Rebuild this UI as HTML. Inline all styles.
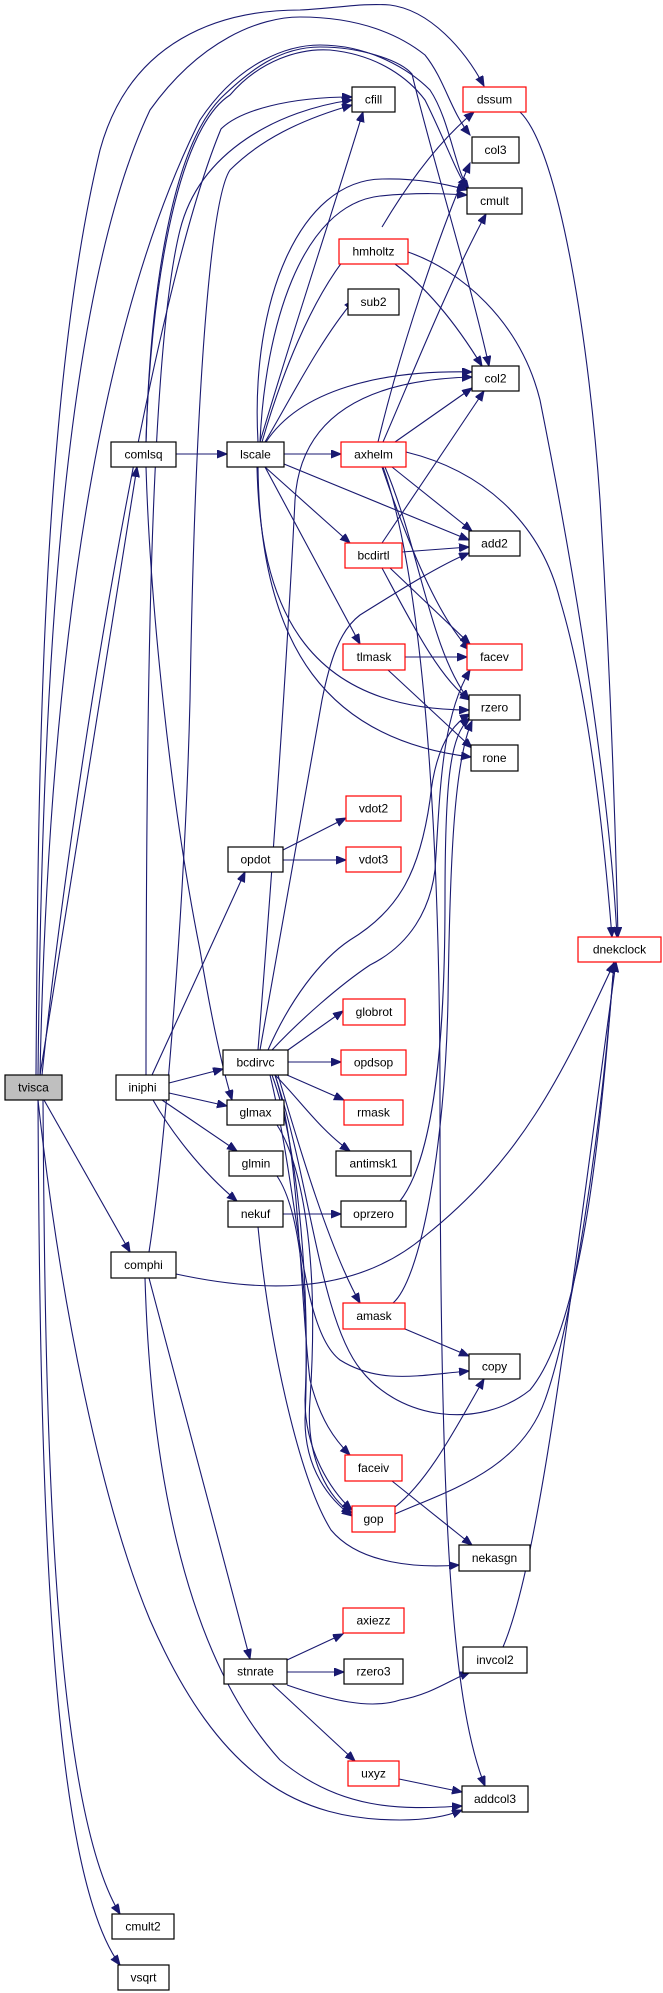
<!DOCTYPE html>
<html><head><meta charset="utf-8"><style>
html,body{margin:0;padding:0;background:#fff;}
svg{display:block;}
text{font-family:"Liberation Sans",sans-serif;font-size:12px;text-anchor:middle;dominant-baseline:central;fill:#000;}
.e{fill:none;stroke:#191970;stroke-width:1.1;marker-end:url(#a);}
.n{fill:#fff;stroke:#000;stroke-width:1.2;}
.r{fill:#fff;stroke:#ff0000;stroke-width:1.2;}
</style></head><body>
<svg width="663" height="1993" viewBox="0 0 663 1993" xmlns="http://www.w3.org/2000/svg">
<defs><marker id="a" markerUnits="userSpaceOnUse" markerWidth="12" markerHeight="10" refX="10" refY="4" orient="auto"><path d="M0,0 L10,4 L0,8 z" fill="#191970" stroke="#191970"/></marker></defs>
<g>
<path class="e" d="M36,1075 C38,800 40,400 100,150 C130,40 220,10 300,10 C340,8 360,3 390,5 C430,10 465,50 484,86"/>
<path class="e" d="M38,1075 C42,700 60,300 150,110 C200,40 260,17 300,17 C360,17 400,35 425,55 C445,80 450,110 470,135"/>
<path class="e" d="M40,1075 C50,600 110,300 200,120 C240,60 290,45 320,45 C370,45 410,70 430,90 C450,120 455,170 469,190"/>
<path class="e" d="M146,442 C150,300 170,150 221,98 C250,70 280,47 320,47 C360,47 400,60 412,74 C430,150 470,280 489,366"/>
<path class="e" d="M146,442 C150,300 175,130 230,95 C260,60 300,48 330,50 C380,55 410,80 425,100 C445,140 455,170 467,188"/>
<path class="e" d="M42,1075 C70,800 150,300 221,129 C240,110 290,97 352,97"/>
<path class="e" d="M149,1252 C165,1150 185,900 190,700 C195,400 210,200 230,170 C260,140 300,120 352,105"/>
<path class="e" d="M146,1075 C146,700 150,350 180,230 C200,150 280,110 352,100"/>
<path class="e" d="M176,454 L227,454"/>
<path class="e" d="M40,1075 L137,467"/>
<path class="e" d="M146,467 C150,600 170,800 200,950 C210,1010 220,1060 232,1100"/>
<path class="e" d="M260,442 C290,340 330,220 363,112"/>
<path class="e" d="M258,442 C250,300 300,180 382,179 C420,178 450,185 467,190"/>
<path class="e" d="M260,442 C265,330 300,205 380,196 C420,192 450,194 467,195"/>
<path class="e" d="M262,442 C280,380 310,300 350,252"/>
<path class="e" d="M265,442 C290,400 320,340 354,300"/>
<path class="e" d="M266,442 C300,390 380,370 472,372"/>
<path class="e" d="M258,1050 C270,900 285,700 295,500 C300,420 360,380 472,377"/>
<path class="e" d="M284,454 L341,454"/>
<path class="e" d="M284,464 L469,540"/>
<path class="e" d="M265,467 L350,543"/>
<path class="e" d="M265,467 L360,644"/>
<path class="e" d="M257,467 C260,600 300,710 469,710"/>
<path class="e" d="M258,467 C260,650 330,740 471,757"/>
<path class="e" d="M382,227 C410,180 440,140 474,112"/>
<path class="e" d="M395,264 C430,290 460,330 482,366"/>
<path class="e" d="M408,252 C460,270 520,320 540,400 C580,600 610,800 617,937"/>
<path class="e" d="M520,112 C560,150 590,350 600,500 C612,700 616,850 618,937"/>
<path class="e" d="M378,442 C400,350 440,230 470,163"/>
<path class="e" d="M383,442 C410,380 450,280 486,214"/>
<path class="e" d="M395,442 L472,388"/>
<path class="e" d="M392,467 L472,531"/>
<path class="e" d="M385,467 C420,550 430,650 469,700"/>
<path class="e" d="M382,467 C410,550 440,620 470,650"/>
<path class="e" d="M383,467 C430,600 440,900 440,1100 C440,1500 450,1700 485,1786"/>
<path class="e" d="M406,452 C480,470 540,520 560,600 C590,700 605,850 612,937"/>
<path class="e" d="M382,543 L484,391"/>
<path class="e" d="M402,552 L469,547"/>
<path class="e" d="M390,568 L470,644"/>
<path class="e" d="M382,568 C410,620 440,680 470,700"/>
<path class="e" d="M405,657 L467,657"/>
<path class="e" d="M388,670 L472,748"/>
<path class="e" d="M152,1075 L245,872"/>
<path class="e" d="M169,1083 L223,1069"/>
<path class="e" d="M169,1093 L227,1106"/>
<path class="e" d="M162,1100 L237,1151"/>
<path class="e" d="M153,1100 C170,1130 200,1170 237,1201"/>
<path class="e" d="M283,850 L346,818"/>
<path class="e" d="M283,860 L346,860"/>
<path class="e" d="M288,1050 L343,1011"/>
<path class="e" d="M288,1062 L341,1062"/>
<path class="e" d="M287,1075 L344,1100"/>
<path class="e" d="M275,1075 C300,1100 320,1130 350,1151"/>
<path class="e" d="M260,1050 L322,700 C330,660 340,630 360,615 C400,590 440,565 469,553"/>
<path class="e" d="M268,1050 C290,1000 320,960 350,940 C400,910 420,870 430,800 C435,750 450,725 470,714"/>
<path class="e" d="M272,1050 C300,1020 340,985 370,965 C410,945 430,910 435,870 C440,800 440,720 470,670"/>
<path class="e" d="M278,1075 C300,1150 330,1250 360,1303"/>
<path class="e" d="M275,1075 C300,1150 300,1300 310,1380 C320,1420 335,1440 350,1455"/>
<path class="e" d="M272,1075 C300,1150 310,1300 305,1400 C305,1450 330,1490 352,1510"/>
<path class="e" d="M275,1075 C310,1180 320,1320 361,1370 C400,1420 480,1430 530,1390 C580,1330 600,1150 614,962"/>
<path class="e" d="M270,1075 C300,1200 300,1330 340,1360 C380,1385 420,1375 469,1371"/>
<path class="e" d="M277,1125 C300,1160 320,1250 310,1400 C305,1460 330,1500 352,1513"/>
<path class="e" d="M277,1176 C300,1210 310,1300 305,1420 C305,1470 330,1500 352,1516"/>
<path class="e" d="M283,1214 L341,1214"/>
<path class="e" d="M258,1227 C270,1350 300,1480 331,1530 C360,1565 420,1568 459,1565"/>
<path class="e" d="M400,1201 C440,1150 445,1000 445,900 C445,780 450,735 470,718"/>
<path class="e" d="M393,1303 C420,1280 445,1150 448,1000 C450,850 455,760 472,721"/>
<path class="e" d="M405,1329 L469,1356"/>
<path class="e" d="M176,1274 C250,1290 350,1300 425,1236 C520,1160 560,1080 614,963"/>
<path class="e" d="M44,1100 L130,1252"/>
<path class="e" d="M38,1100 C60,1300 100,1500 150,1620 C220,1780 300,1820 400,1820 C430,1820 450,1815 462,1810"/>
<path class="e" d="M145,1278 C150,1450 180,1650 280,1760 C340,1810 400,1810 462,1806"/>
<path class="e" d="M149,1278 L250,1659"/>
<path class="e" d="M43,1100 C45,1400 50,1800 120,1914"/>
<path class="e" d="M38,1100 C40,1500 50,1870 120,1965"/>
<path class="e" d="M287,1660 L343,1634"/>
<path class="e" d="M287,1672 L344,1672"/>
<path class="e" d="M287,1685 C330,1700 370,1710 400,1700 C430,1695 450,1680 470,1672"/>
<path class="e" d="M272,1684 L355,1761"/>
<path class="e" d="M399,1779 L462,1792"/>
<path class="e" d="M503,1647 C540,1560 570,1300 616,962"/>
<path class="e" d="M395,1514 C450,1490 520,1470 545,1400 C570,1330 600,1150 614,962"/>
<path class="e" d="M395,1507 C430,1480 460,1420 484,1379"/>
<path class="e" d="M392,1481 L472,1545"/>
</g>
<g>
<rect x="5" y="1075" width="57" height="25" fill="#bfbfbf" stroke="#000" stroke-width="1.2"/><text x="33.5" y="1087.5">tvisca</text>
<rect class="n" x="352" y="87" width="43" height="25"/><text x="373.5" y="99.5">cfill</text>
<rect class="r" x="463" y="87" width="63" height="25"/><text x="494.5" y="99.5">dssum</text>
<rect class="n" x="472" y="137" width="47" height="26"/><text x="495.5" y="150">col3</text>
<rect class="n" x="467" y="188" width="55" height="26"/><text x="494.5" y="201">cmult</text>
<rect class="r" x="339" y="239" width="69" height="25"/><text x="373.5" y="251.5">hmholtz</text>
<rect class="n" x="348" y="289" width="51" height="26"/><text x="373.5" y="302">sub2</text>
<rect class="n" x="472" y="366" width="47" height="25"/><text x="495.5" y="378.5">col2</text>
<rect class="n" x="111" y="442" width="65" height="25"/><text x="143.5" y="454.5">comlsq</text>
<rect class="n" x="227" y="442" width="57" height="25"/><text x="255.5" y="454.5">lscale</text>
<rect class="r" x="341" y="442" width="65" height="25"/><text x="373.5" y="454.5">axhelm</text>
<rect class="n" x="469" y="531" width="51" height="25"/><text x="494.5" y="543.5">add2</text>
<rect class="r" x="345" y="543" width="57" height="25"/><text x="373.5" y="555.5">bcdirtl</text>
<rect class="r" x="343" y="644" width="62" height="26"/><text x="374" y="657">tlmask</text>
<rect class="r" x="467" y="644" width="55" height="26"/><text x="494.5" y="657">facev</text>
<rect class="n" x="469" y="695" width="51" height="25"/><text x="494.5" y="707.5">rzero</text>
<rect class="n" x="471" y="745" width="47" height="26"/><text x="494.5" y="758">rone</text>
<rect class="r" x="346" y="796" width="55" height="25"/><text x="373.5" y="808.5">vdot2</text>
<rect class="n" x="228" y="847" width="55" height="25"/><text x="255.5" y="859.5">opdot</text>
<rect class="r" x="346" y="847" width="55" height="25"/><text x="373.5" y="859.5">vdot3</text>
<rect class="r" x="578" y="937" width="83" height="25"/><text x="619.5" y="949.5">dnekclock</text>
<rect class="r" x="343" y="999" width="62" height="26"/><text x="374" y="1012">globrot</text>
<rect class="n" x="223" y="1050" width="65" height="25"/><text x="255.5" y="1062.5">bcdirvc</text>
<rect class="r" x="341" y="1050" width="65" height="25"/><text x="373.5" y="1062.5">opdsop</text>
<rect class="n" x="116" y="1075" width="53" height="25"/><text x="142.5" y="1087.5">iniphi</text>
<rect class="r" x="344" y="1100" width="59" height="25"/><text x="373.5" y="1112.5">rmask</text>
<rect class="n" x="227" y="1100" width="57" height="25"/><text x="255.5" y="1112.5">glmax</text>
<rect class="n" x="229" y="1151" width="54" height="25"/><text x="256" y="1163.5">glmin</text>
<rect class="n" x="336" y="1151" width="75" height="25"/><text x="373.5" y="1163.5">antimsk1</text>
<rect class="n" x="228" y="1201" width="55" height="26"/><text x="255.5" y="1214">nekuf</text>
<rect class="n" x="341" y="1201" width="65" height="26"/><text x="373.5" y="1214">oprzero</text>
<rect class="n" x="111" y="1252" width="65" height="26"/><text x="143.5" y="1265">comphi</text>
<rect class="r" x="343" y="1303" width="62" height="26"/><text x="374" y="1316">amask</text>
<rect class="n" x="469" y="1354" width="51" height="25"/><text x="494.5" y="1366.5">copy</text>
<rect class="r" x="345" y="1455" width="57" height="26"/><text x="373.5" y="1468">faceiv</text>
<rect class="r" x="352" y="1506" width="43" height="26"/><text x="373.5" y="1519">gop</text>
<rect class="n" x="459" y="1545" width="71" height="26"/><text x="494.5" y="1558">nekasgn</text>
<rect class="r" x="343" y="1608" width="61" height="25"/><text x="373.5" y="1620.5">axiezz</text>
<rect class="n" x="463" y="1647" width="64" height="26"/><text x="495" y="1660">invcol2</text>
<rect class="n" x="224" y="1659" width="63" height="25"/><text x="255.5" y="1671.5">stnrate</text>
<rect class="n" x="344" y="1659" width="59" height="25"/><text x="373.5" y="1671.5">rzero3</text>
<rect class="r" x="348" y="1761" width="51" height="25"/><text x="373.5" y="1773.5">uxyz</text>
<rect class="n" x="462" y="1786" width="66" height="26"/><text x="495" y="1799">addcol3</text>
<rect class="n" x="112" y="1914" width="62" height="25"/><text x="143" y="1926.5">cmult2</text>
<rect class="n" x="118" y="1965" width="51" height="25"/><text x="143.5" y="1977.5">vsqrt</text>
</g>
</svg>
</body></html>
